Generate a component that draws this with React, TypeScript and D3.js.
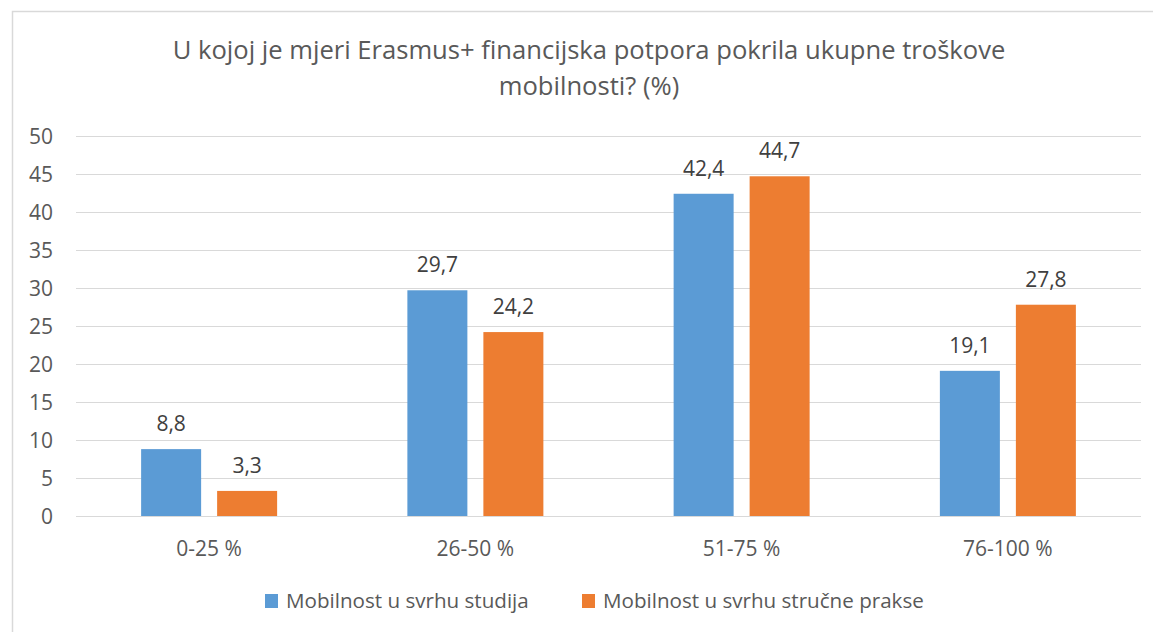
import React from "react";
import * as d3 from "d3";

const categories = ["0-25 %", "26-50 %", "51-75 %", "76-100 %"];
const seriesNames = ["Mobilnost u svrhu studija", "Mobilnost u svrhu stručne prakse"];
const studija = [8.8, 29.7, 42.4, 19.1];
const praksa = [3.3, 24.2, 44.7, 27.8];
const yTicks = [0, 5, 10, 15, 20, 25, 30, 35, 40, 45, 50];
const colors = ["#5b9bd5", "#ed7d31"];
const titleLines = [
  "U kojoj je mjeri Erasmus+ financijska potpora pokrila ukupne troškove",
  "mobilnosti? (%)",
];

const W = 1153;
const H = 632;
const FONT = "'Open Sans', 'Noto Sans', sans-serif";

export default function App() {
  const left = 76, right = 1141, top = 136, bottom = 516;
  const x0 = d3.scaleBand<string>().domain(categories).range([left, right]).paddingInner(0).paddingOuter(0);
  const y = d3.scaleLinear().domain([0, 50]).range([bottom, top]);
  const barW = 60;
  const gap = 16;
  const series = [studija, praksa];
  const fmt = (v: number) => v.toFixed(1).replace(".", ",");
  const legendX = [265, 582];

  return (
    <div style={{ position: "fixed", left: 0, top: 0, width: W, height: H, background: "#fff" }}>
      <svg width={W} height={H} style={{ display: "block", fontFamily: FONT }}>
        <rect x={0} y={0} width={W} height={H} fill="#fff" />
        <rect x={12.5} y={11.5} width={W + 20} height={H + 20} fill="none" stroke="#d9d9d9" strokeWidth={1.5} />
        {titleLines.map((t, i) => (
          <text key={i} x={589} y={59 + i * 36} textAnchor="middle" fontSize={25.6} fill="#595959">
            {t}
          </text>
        ))}
        {yTicks.map((t) => (
          <g key={t}>
            <line x1={left} x2={right} y1={Math.round(y(t)) + 0.5} y2={Math.round(y(t)) + 0.5} stroke="#d9d9d9" strokeWidth={1.2} />
            <text x={53} y={y(t) + 7.5} textAnchor="end" fontSize={21} fill="#595959">
              {t}
            </text>
          </g>
        ))}
        {categories.map((c, ci) => {
          const cx = (x0(c) as number) + x0.bandwidth() / 2;
          const groupW = barW * 2 + gap;
          return (
            <g key={c}>
              {series.map((s, si) => {
                const bx = cx - groupW / 2 + si * (barW + gap);
                const v = s[ci];
                return (
                  <g key={si}>
                    <rect x={bx} y={y(v)} width={barW} height={bottom - y(v)} fill={colors[si]} />
                    <text x={bx + barW / 2} y={y(v) - 18} textAnchor="middle" fontSize={21} fill="#404040">
                      {fmt(v)}
                    </text>
                  </g>
                );
              })}
              <text x={cx} y={556} textAnchor="middle" fontSize={21} fill="#595959">
                {c}
              </text>
            </g>
          );
        })}
        {seriesNames.map((n, i) => {
          const lx = legendX[i];
          return (
            <g key={n}>
              <rect x={lx} y={594} width={13} height={14} fill={colors[i]} />
              <text x={lx + 21} y={608} fontSize={20.6} fill="#595959">
                {n}
              </text>
            </g>
          );
        })}
      </svg>
    </div>
  );
}
